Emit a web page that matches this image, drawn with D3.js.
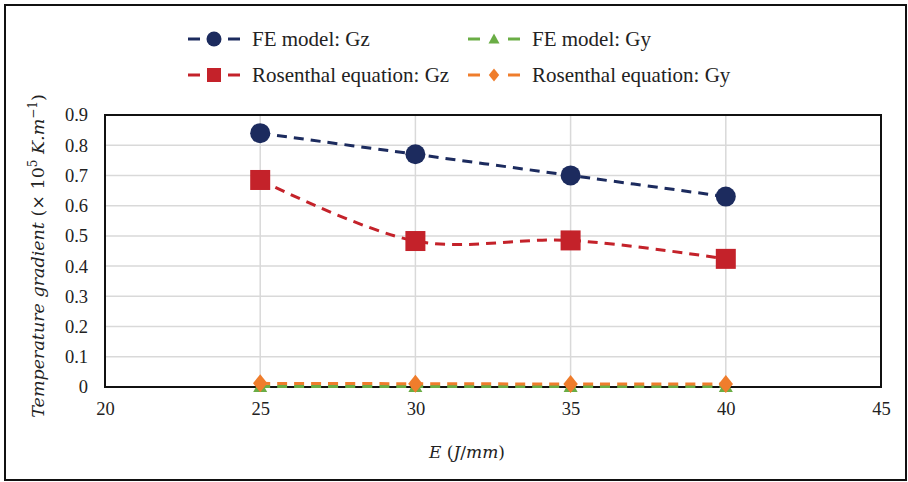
<!DOCTYPE html>
<html><head><meta charset="utf-8">
<script src="https://cdn.jsdelivr.net/npm/d3@7"></script>
<style>body{margin:0;background:#fff}svg{display:block}</style>
</head><body>
<script>
const xValues = [25, 30, 35, 40];
const feGz = [0.84, 0.77, 0.70, 0.63];
const feGy = [0.002, 0.002, 0.002, 0.002];
const rosGz = [0.685, 0.483, 0.485, 0.424];
const rosGy = [0.012, 0.011, 0.010, 0.010];
const xTicks = [20, 25, 30, 35, 40, 45];
const yTicks = [0, 0.1, 0.2, 0.3, 0.4, 0.5, 0.6, 0.7, 0.8, 0.9];
const seriesNames = ["FE model: Gz", "FE model: Gy", "Rosenthal equation: Gz", "Rosenthal equation: Gy"];
const seriesColors = ["#1c2b5e", "#6aad45", "#c4222a", "#ef7d2c"];

const W = 908, H = 482;
const svg = d3.select("body").append("svg").attr("width", W).attr("height", H);
svg.append("rect").attr("x", 0).attr("y", 0).attr("width", W).attr("height", H).attr("fill", "#fff");
svg.append("rect").attr("x", 5).attr("y", 5).attr("width", 901).attr("height", 475)
  .attr("fill", "none").attr("stroke", "#111").attr("stroke-width", 2);

const m = {l: 105, r: 881, t: 115, b: 387};
const x = d3.scaleLinear().domain([20, 45]).range([m.l, m.r]);
const y = d3.scaleLinear().domain([0, 0.9]).range([m.b, m.t]);

// gridlines
svg.append("g").selectAll("line").data(yTicks.slice(1)).join("line")
  .attr("x1", m.l).attr("x2", m.r).attr("y1", d => y(d)).attr("y2", d => y(d))
  .attr("stroke", "#d9d9d9").attr("stroke-width", 1.5);
svg.append("g").selectAll("line").data(xTicks.slice(1, -1)).join("line")
  .attr("y1", m.t).attr("y2", m.b).attr("x1", d => x(d)).attr("x2", d => x(d))
  .attr("stroke", "#d9d9d9").attr("stroke-width", 1.5);

svg.append("rect").attr("x", m.l).attr("y", m.t).attr("width", m.r - m.l).attr("height", m.b - m.t)
  .attr("fill", "none").attr("stroke", "#111").attr("stroke-width", 2);

// axes (labels only)
const font = "'Liberation Serif', 'Times New Roman', serif";
const yAxis = svg.append("g").attr("transform", `translate(${m.l},0)`)
  .call(d3.axisLeft(y).tickValues(yTicks).tickSize(0).tickPadding(17).tickFormat(d => d === 0 ? "0" : d3.format(".1f")(d)));
yAxis.select(".domain").remove();
yAxis.selectAll("text").attr("font-family", font).attr("font-size", 18.5).attr("fill", "#222");
const xAxis = svg.append("g").attr("transform", `translate(0,${m.b})`)
  .call(d3.axisBottom(x).tickValues(xTicks).tickSize(0).tickPadding(15).tickFormat(d3.format("d")));
xAxis.select(".domain").remove();
xAxis.selectAll("text").attr("font-family", font).attr("font-size", 18.5).attr("fill", "#222");

// axis titles
const mathFont = "'DejaVu Serif', serif";
svg.append("text").attr("x", 467).attr("y", 458).attr("text-anchor", "middle")
  .attr("font-family", mathFont).attr("font-size", 17).attr("fill", "#222")
  .html('<tspan font-style="italic">E</tspan> (<tspan font-style="italic">J</tspan>/<tspan font-style="italic">mm</tspan>)');
const yt = svg.append("text").attr("transform", "translate(44,256) rotate(-90)").attr("text-anchor", "middle")
  .attr("font-family", mathFont).attr("font-size", 17.5).attr("fill", "#222");
yt.append("tspan").attr("font-style", "italic").text("Temperature gradient");
yt.append("tspan").text(" (× 10");
yt.append("tspan").attr("font-size", 12).attr("dy", -7).text("5");
yt.append("tspan").attr("dy", 7).attr("font-style", "italic").text(" K.m");
yt.append("tspan").attr("font-size", 12).attr("dy", -7).text("−1");
yt.append("tspan").attr("dy", 7).text(")");

const line = d3.line().x(d => x(d[0])).y(d => y(d[1])).curve(d3.curveCatmullRom.alpha(0.5));
const series = [feGz, feGy, rosGz, rosGy];
const dashes = ["10,7", "10,7", "10,7", "10,7"];
const zip = arr => xValues.map((v, i) => [v, arr[i]]);

function marker(g, type, cx, cy, color, s) {
  if (type === 0) g.append("circle").attr("cx", cx).attr("cy", cy).attr("r", s).attr("fill", color);
  else if (type === 1) g.append("path").attr("d", `M${cx},${cy - s}L${cx + s},${cy + s * 0.8}L${cx - s},${cy + s * 0.8}Z`).attr("fill", color);
  else if (type === 2) g.append("rect").attr("x", cx - s).attr("y", cy - s).attr("width", 2 * s).attr("height", 2 * s).attr("fill", color);
  else g.append("path").attr("d", `M${cx},${cy - s}L${cx + s * 0.8},${cy}L${cx},${cy + s}L${cx - s * 0.8},${cy}Z`).attr("fill", color);
}

const sizes = [10, 7, 10, 9];
const order = [1, 3, 0, 2];
order.forEach(i => {
  svg.append("path").attr("d", line(zip(series[i]))).attr("fill", "none")
    .attr("stroke", seriesColors[i]).attr("stroke-width", 3).attr("stroke-dasharray", dashes[i]);
});
order.forEach(i => {
  const g = svg.append("g");
  zip(series[i]).forEach(d => marker(g, i, x(d[0]), y(d[1]), seriesColors[i], sizes[i]));
});

// legend
const legPos = [[188, 39], [468, 39], [188, 75], [468, 75]];
const legSizes = [7.5, 5.5, 7, 6.5];
seriesNames.forEach((name, i) => {
  const [lx, ly] = legPos[i];
  const g = svg.append("g");
  g.append("line").attr("x1", lx).attr("x2", lx + 12).attr("y1", ly).attr("y2", ly).attr("stroke", seriesColors[i]).attr("stroke-width", 3);
  g.append("line").attr("x1", lx + 40).attr("x2", lx + 52).attr("y1", ly).attr("y2", ly).attr("stroke", seriesColors[i]).attr("stroke-width", 3);
  marker(g, i, lx + 26, ly, seriesColors[i], legSizes[i]);
  g.append("text").attr("x", lx + 64).attr("y", ly + 7).attr("font-family", font).attr("font-size", 21)
    .attr("fill", "#222").text(name);
});
</script>
</body></html>
